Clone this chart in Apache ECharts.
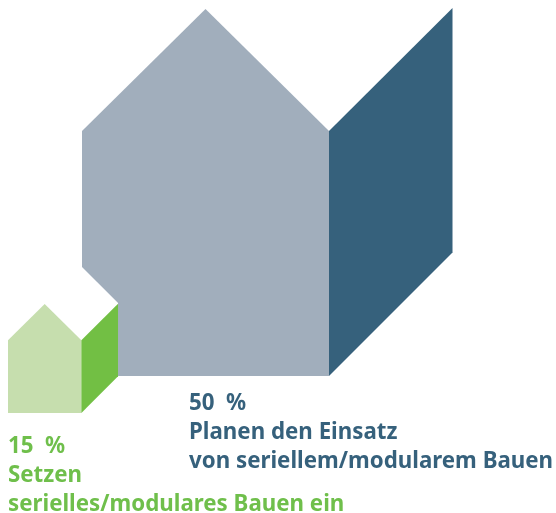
<!DOCTYPE html>
<html><head><meta charset="utf-8">
<style>html,body{margin:0;padding:0;background:#fff}#c{width:556px;height:513px}</style>
<script src="https://cdn.jsdelivr.net/npm/echarts@6/dist/echarts.min.js"></script>
</head><body><div id="c"></div>
<script>
const categories = ['Planen den Einsatz von seriellem/modularem Bauen', 'Setzen serielles/modulares Bauen ein'];
const shares = [50, 15];
const percentLabels = ['50  %', '15  %'];
const textLines = [
  ['Planen den Einsatz', 'von seriellem/modularem Bauen'],
  ['Setzen', 'serielles/modulares Bauen ein']
];
// drawn house width, in percent units
const houseSizes = [50, 14.85];

const PX = 4.94, W = 556, H = 513;
const houseAnchors = [[16.6, 27.73], [1.62, 20.24]];
const labelAnchors = [[38.26, 22.06], [1.62, 13.4]];
const frontColors = ['#A1AEBC', '#C6DEAE'];
const sideColors = ['#36617C', '#72BF44'];
const textColors = ['#36617C', '#6FBF4B'];
const frontShape = [[0,0],[1,0],[1,.992],[.5,1.486],[0,.992]];
const sideShape = [[1,0],[1.5,.5],[1.5,1.49],[1,.992]];
const notchShape = [[.9,2.1],[1.5,1.5],[1.5,.4],[.9,.4]];
const LINE = 28.7;

function renderHouse(params, api) {
  const i = params.dataIndex;
  const size = api.value(1), ax = houseAnchors[i];
  const poly = (shape, fill) => ({
    type: 'polygon', silent: true,
    shape: { points: shape.map(p => api.coord([ax[0] + p[0]*size, ax[1] + p[1]*size])) },
    style: { fill: fill, stroke: null }
  });
  const children = [];
  if (i === 1) children.push(poly(notchShape, '#ffffff'));
  children.push(poly(frontShape, frontColors[i]), poly(sideShape, sideColors[i]));
  const o = api.coord(labelAnchors[i]);
  [percentLabels[i]].concat(textLines[i]).forEach((t, k) => {
    children.push({
      type: 'text', silent: true,
      style: {
        x: o[0], y: o[1] + k*LINE, text: t,
        fill: textColors[i],
        font: 'bold 22.3px "Noto Sans"',
        textAlign: 'left', textVerticalAlign: 'middle'
      }
    });
  });
  return { type: 'group', children };
}

const chart = echarts.init(document.getElementById('c'), null, {renderer: 'canvas'});
chart.setOption({
  animation: false,
  backgroundColor: '#fff',
  grid: { left: 0, top: 0, width: W, height: H },
  xAxis: { type: 'value', min: 0, max: W/PX, show: false },
  yAxis: { type: 'value', min: 0, max: H/PX, show: false },
  series: [{
    type: 'custom',
    clip: false,
    renderItem: renderHouse,
    encode: { x: 0, y: 1 },
    data: categories.map((c, i) => ({ name: c, value: [i, houseSizes[i], shares[i]] }))
  }]
});
</script></body></html>
